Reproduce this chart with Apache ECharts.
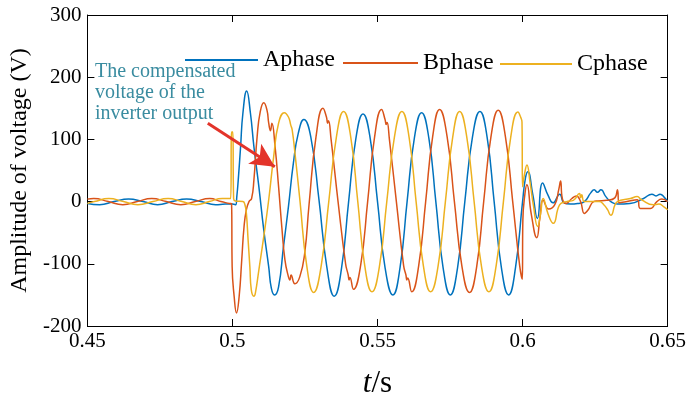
<!DOCTYPE html>
<html>
<head>
<meta charset="utf-8">
<script src="https://cdn.jsdelivr.net/npm/echarts@6/dist/echarts.min.js"></script>
<style>
  html, body { margin: 0; padding: 0; background: #fff; }
  #chart { width: 689px; height: 404px; }
</style>
</head>
<body>
<div id="chart"></div>
<script>
// Three-phase compensation voltage, [time (s), voltage (V)]
const phaseA = [
  [0.4500,-3],[0.4542,-5],[0.4592,0],[0.4642,4],[0.4692,0],[0.4742,-5],[0.4792,0],[0.4842,4],
  [0.4892,0],[0.4942,-5],[0.4975,-4],[0.5000,-4],[0.5011,-5],[0.5015,8],[0.5020,35],[0.5028,88],
  [0.5036,142],[0.5049,178],[0.5062,142],[0.5074,88],[0.5091,24],[0.5108,-46],[0.5125,-105],
  [0.5134,-139],[0.5145,-150],[0.5159,-137],[0.5176,-72],[0.5193,-8],[0.5210,62],[0.5227,110],
  [0.5246,132],[0.5270,104],[0.5298,4],[0.5325,-104],[0.5351,-152],[0.5376,-107],[0.5400,-2],
  [0.5425,100],[0.5450,141],[0.5475,101],[0.5500,0],[0.5526,-106],[0.5553,-150],[0.5578,-105],
  [0.5602,0],[0.5627,102],[0.5652,143],[0.5677,102],[0.5701,0],[0.5726,-106],[0.5751,-150],
  [0.5776,-106],[0.5801,0],[0.5827,103],[0.5853,145],[0.5878,103],[0.5902,0],[0.5927,-106],
  [0.5952,-150],[0.5976,-105],[0.6000,0],[0.6010,38],[0.6018,48],[0.6035,12],[0.6051,-27],
  [0.6069,30],[0.6088,10],[0.6105,-2],[0.6128,12],[0.6143,-2],[0.6165,-4],[0.6190,-3],[0.6213,0],
  [0.6235,14],[0.6247,19],[0.6258,15],[0.6270,19],[0.6287,8],[0.6304,0],[0.6327,-4],[0.6370,-3],
  [0.6417,5],[0.6446,12],[0.6460,9],[0.6474,12],[0.6490,6],[0.6500,0]
];

const phaseB = [
  [0.4500,4],[0.4522,5],[0.4572,0],[0.4622,-5],[0.4672,0],[0.4722,5],[0.4772,0],[0.4822,-5],
  [0.4872,0],[0.4922,5],[0.4960,0],[0.4990,-3],[0.4997,-4],[0.4999,-105],[0.5006,-153],
  [0.5014,-179],[0.5023,-153],[0.5032,-94],[0.5040,-40],[0.5048,-13],[0.5057,0],[0.5066,5],
  [0.5074,35],[0.5085,104],[0.5096,145],[0.5108,159],[0.5119,147],[0.5125,126],[0.5131,114],
  [0.5136,126],[0.5147,88],[0.5159,24],[0.5170,-40],[0.5181,-94],[0.5193,-121],[0.5198,-126],
  [0.5202,-118],[0.5215,-132],[0.5232,-121],[0.5249,-83],[0.5264,-5],[0.5288,104],[0.5312,150],
  [0.5324,136],[0.5328,126],[0.5331,130],[0.5340,100],[0.5364,0],[0.5390,-100],[0.5399,-118],
  [0.5402,-126],[0.5405,-122],[0.5417,-141],[0.5442,-102],[0.5466,0],[0.5490,104],[0.5514,148],
  [0.5526,132],[0.5530,124],[0.5533,127],[0.5541,100],[0.5565,0],[0.5590,-103],[0.5598,-118],
  [0.5601,-126],[0.5604,-123],[0.5618,-145],[0.5642,-103],[0.5666,0],[0.5690,104],[0.5714,148],
  [0.5740,104],[0.5765,0],[0.5791,-104],[0.5817,-146],[0.5842,-104],[0.5866,0],[0.5891,104],
  [0.5916,147],[0.5941,104],[0.5966,0],[0.5990,-103],[0.5999,-125],[0.6001,-30],[0.6008,12],
  [0.6015,27],[0.6030,-20],[0.6049,-58],[0.6060,-25],[0.6071,2],[0.6090,-12],[0.6111,-5],
  [0.6125,20],[0.6131,33],[0.6137,5],[0.6150,-3],[0.6170,5],[0.6185,9],[0.6200,0],[0.6213,-19],
  [0.6225,-14],[0.6245,0],[0.6259,1],[0.6290,2],[0.6318,6],[0.6327,19],[0.6333,-2],[0.6360,0],
  [0.6395,3],[0.6406,-11],[0.6440,-11],[0.6463,0],[0.6480,4],[0.6500,0]
];

const phaseC = [
  [0.4500,-3],[0.4524,0],[0.4574,5],[0.4624,0],[0.4674,-5],[0.4726,0],[0.4778,5],[0.4826,0],
  [0.4874,-5],[0.4920,0],[0.4965,5],[0.4994,5],[0.4997,112],[0.5001,112],[0.5004,5],[0.5010,1],
  [0.5036,0],[0.5043,-5],[0.5048,-19],[0.5054,-62],[0.5060,-105],[0.5065,-142],[0.5074,-152],
  [0.5079,-147],[0.5091,-110],[0.5108,-56],[0.5125,3],[0.5142,72],[0.5159,126],[0.5179,143],
  [0.5193,136],[0.5201,123],[0.5206,115],[0.5215,80],[0.5233,0],[0.5256,-103],[0.5280,-146],
  [0.5306,-103],[0.5332,0],[0.5358,103],[0.5383,145],[0.5408,103],[0.5432,0],[0.5456,-103],
  [0.5481,-145],[0.5507,-103],[0.5532,0],[0.5558,103],[0.5584,145],[0.5609,103],[0.5633,0],
  [0.5658,-103],[0.5683,-145],[0.5709,-103],[0.5734,0],[0.5759,103],[0.5783,145],[0.5808,103],
  [0.5833,0],[0.5858,-103],[0.5884,-145],[0.5909,-103],[0.5934,0],[0.5959,103],[0.5984,144],
  [0.5994,135],[0.5998,128],[0.6000,24],[0.6007,45],[0.6015,59],[0.6026,30],[0.6037,-5],
  [0.6052,-40],[0.6062,-20],[0.6071,5],[0.6088,-20],[0.6106,-35],[0.6128,-5],[0.6151,0],
  [0.6175,2],[0.6196,13],[0.6200,6],[0.6204,11],[0.6213,0],[0.6264,0],[0.6280,-5],[0.6293,-13],
  [0.6304,-22],[0.6327,0],[0.6372,5],[0.6395,8],[0.6410,3],[0.6451,-5],[0.6470,-4],[0.6486,-8],
  [0.6500,-13]
];

const seriesNames = ['Aphase', 'Bphase', 'Cphase'];
const seriesColors = ['#0072BD', '#D95319', '#EDB120'];
const noteText = ['The compensated', 'voltage of the', 'inverter output'];
// arrow pointing at the waveform, in data coordinates [t, V]
const arrowFrom = [0.4915, 126];
const arrowTo = [0.5146, 56];

const serif = '"Liberation Serif", "Times New Roman", serif';

const chart = echarts.init(document.getElementById('chart'), null, { renderer: 'canvas' });

const axisLine = { show: true, onZero: false, lineStyle: { color: '#000', width: 1 } };
const axisTick = { show: true, inside: true, length: 7, lineStyle: { color: '#000', width: 1 } };

// one legend per phase so each entry can sit on its own baseline
function legendFor(name, left, top, width) {
  return {
    data: [name],
    left: left,
    top: top,
    padding: 0,
    icon: 'rect',
    itemWidth: width,
    itemHeight: 2,
    itemGap: 0,
    selectedMode: false,
    textStyle: { fontFamily: serif, fontSize: 24, color: '#000' }
  };
}

function lineSeries(name, data, color, extra) {
  return Object.assign({
    name: name,
    type: 'line',
    data: data,
    symbol: 'none',
    showSymbol: false,
    smooth: 0.5,
    clip: true,
    lineStyle: { color: color, width: 1.5 },
    itemStyle: { color: color }
  }, extra || {});
}

chart.setOption({
  animation: false,
  backgroundColor: '#fff',
  grid: { left: 83, right: 18, top: 15, bottom: 78, containLabel: false },
  legend: [
    legendFor(seriesNames[0], 185, 48, 73),
    legendFor(seriesNames[1], 343, 51, 75),
    legendFor(seriesNames[2], 500, 52, 72)
  ],
  xAxis: [
    {
      type: 'value', min: 0.45, max: 0.65, interval: 0.05, position: 'bottom',
      axisLine: axisLine, axisTick: axisTick, splitLine: { show: false },
      axisLabel: { color: '#000', fontFamily: serif, fontSize: 21, margin: 5 },
      name: '{i|t}{n|/s}',
      nameLocation: 'middle',
      nameGap: 42,
      nameTextStyle: {
        rich: {
          i: { fontFamily: serif, fontStyle: 'italic', fontSize: 31, color: '#000' },
          n: { fontFamily: serif, fontSize: 31, color: '#000' }
        }
      }
    },
    {
      type: 'value', min: 0.45, max: 0.65, interval: 0.05, position: 'top',
      axisLine: axisLine, axisTick: axisTick, splitLine: { show: false },
      axisLabel: { show: false }
    }
  ],
  yAxis: [
    {
      type: 'value', min: -200, max: 300, interval: 100, position: 'left',
      axisLine: axisLine, axisTick: axisTick, splitLine: { show: false },
      axisLabel: { color: '#000', fontFamily: serif, fontSize: 21, margin: 6 },
      name: 'Amplitude of voltage (V)',
      nameLocation: 'middle',
      nameGap: 51,
      nameTextStyle: { fontFamily: serif, fontSize: 24, color: '#000' }
    },
    {
      type: 'value', min: -200, max: 300, interval: 100, position: 'right',
      axisLine: axisLine, axisTick: axisTick, splitLine: { show: false },
      axisLabel: { show: false }
    }
  ],
  graphic: [
    {
      type: 'text',
      left: 95,
      top: 61,
      silent: true,
      style: {
        text: noteText.join('\n'),
        font: '20px ' + serif,
        fill: '#3a8ca0',
        lineHeight: 21
      }
    }
  ],
  series: [
    lineSeries(seriesNames[0], phaseA, seriesColors[0]),
    lineSeries(seriesNames[1], phaseB, seriesColors[1]),
    lineSeries(seriesNames[2], phaseC, seriesColors[2], {
      markLine: {
        silent: true,
        symbol: ['none', 'arrow'],
        symbolSize: [18, 24],
        label: { show: false },
        lineStyle: { color: '#e3342a', width: 3, type: 'solid' },
        emphasis: { disabled: true },
        data: [[{ coord: arrowFrom }, { coord: arrowTo }]]
      }
    })
  ]
});
</script>
</body>
</html>
